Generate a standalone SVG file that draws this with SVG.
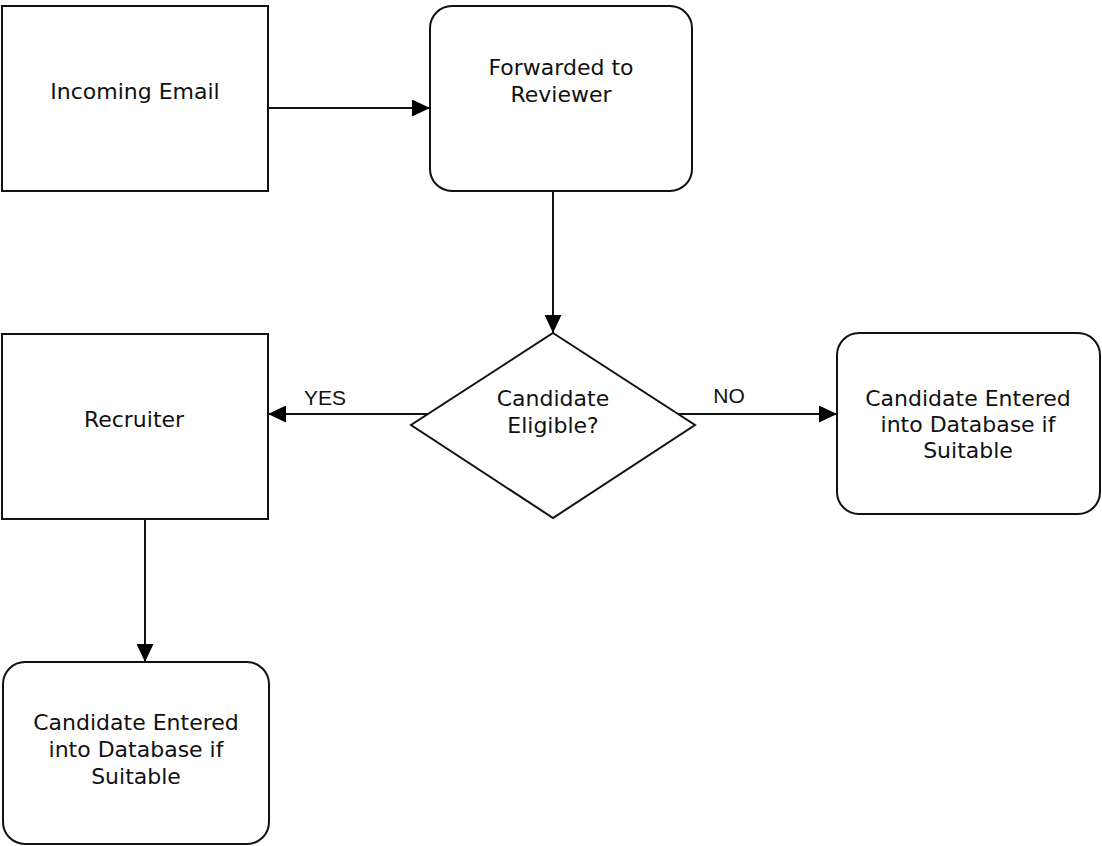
<svg xmlns="http://www.w3.org/2000/svg" width="1102" height="846" viewBox="0 0 1102 846">
<defs>
<marker id="arr" markerUnits="userSpaceOnUse" markerWidth="18" markerHeight="17" refX="18" refY="8.5" orient="auto">
<path d="M0,0 L18,8.5 L0,17 z" fill="#000"/>
</marker>
<style>
.box{fill:#fff;stroke:#111;stroke-width:2}
.t{font-family:"DejaVu Sans",Verdana,sans-serif;font-size:22px;fill:#111;text-anchor:middle}
.lbl{font-family:"Liberation Sans",Arial,sans-serif;font-size:21px;fill:#111;text-anchor:middle}
.c{fill:none;stroke:#111;stroke-width:2;marker-end:url(#arr)}
</style>
</defs>
<rect width="1102" height="846" fill="#fff"/>
<g id="incoming">
<rect class="box" x="2" y="6" width="266" height="185"/>
<text class="t" x="135" y="99">Incoming Email</text>
</g>
<g id="forwarded">
<rect class="box" x="430" y="6" width="262" height="185" rx="22"/>
<text class="t" x="561" y="75">Forwarded to</text>
<text class="t" x="561" y="102">Reviewer</text>
</g>
<g id="decision">
<polygon class="box" points="553,333 695,425 553,518 411,425"/>
<text class="t" x="553" y="406">Candidate</text>
<text class="t" x="553" y="433">Eligible?</text>
</g>
<g id="recruiter">
<rect class="box" x="2" y="334" width="266" height="185"/>
<text class="t" x="134" y="427">Recruiter</text>
</g>
<g id="db-right">
<rect class="box" x="837" y="333" width="263" height="181" rx="22"/>
<text class="t" x="968" y="406">Candidate Entered</text>
<text class="t" x="968" y="432">into Database if</text>
<text class="t" x="968" y="458">Suitable</text>
</g>
<g id="db-bottom">
<rect class="box" x="3" y="662" width="266" height="182" rx="22"/>
<text class="t" x="136" y="730">Candidate Entered</text>
<text class="t" x="136" y="757">into Database if</text>
<text class="t" x="136" y="784">Suitable</text>
</g>
<g id="connectors">
<line class="c" x1="268" y1="108" x2="430" y2="108"/>
<line class="c" x1="553" y1="191" x2="553" y2="333"/>
<line class="c" x1="428" y1="414" x2="268" y2="414"/>
<line class="c" x1="678" y1="414" x2="837" y2="414"/>
<line class="c" x1="145" y1="519" x2="145" y2="662"/>
<text class="lbl" x="325" y="405">YES</text>
<text class="lbl" x="729" y="403">NO</text>
</g>
</svg>
